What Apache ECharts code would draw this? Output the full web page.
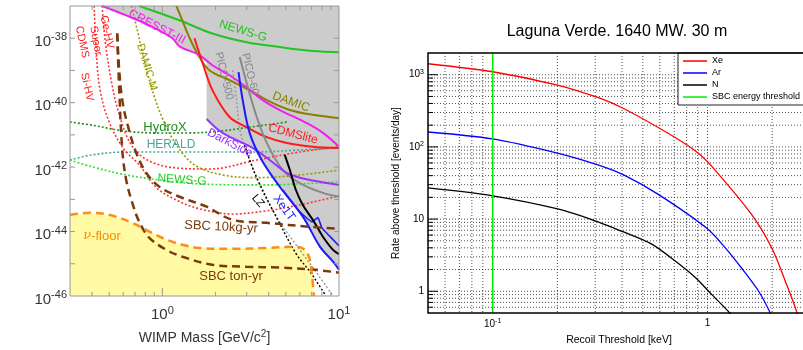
<!DOCTYPE html>
<html>
<head>
<meta charset="utf-8">
<script src="https://cdn.jsdelivr.net/npm/echarts@6/dist/echarts.min.js"></script>
<style>
html, body { margin: 0; padding: 0; background: #fff; }
#chart { width: 803px; height: 350px; }
</style>
</head>
<body>
<div id="chart"></div>
<script>
// ---------- left panel: SI WIMP-nucleon limits [mass GeV/c^2, sigma cm^2]
var massRange = [0.3, 10];
var sigmaRange = [1e-46, 1e-37];

var excludedRegion = [[0.456, 1e-37], [10, 1e-37], [10, 6.6e-46], [9.25, 1.17e-45], [7.8, 3.4e-45], [6.24, 2.9e-44],
    [4.62, 2.45e-43], [3.65, 1.66e-42], [3.25, 3.9e-42], [2.19, 1.15e-41], [1.78, 3.1e-41], [1.78, 1.7e-39],
    [1.62, 3.0e-39], [1.25, 5.6e-39], [1.14, 1e-38], [0.844, 2.5e-38], [0.624, 5.1e-38]];
var nuFloor = [[0.3, 3.3e-44], [0.385, 3.8e-44], [0.5, 3.3e-44], [0.676, 1.86e-44], [0.844, 1e-44], [1.054, 5.6e-45],
    [1.3, 3.9e-45], [1.62, 3.1e-45], [2.5, 2.9e-45], [3.9, 3.1e-45], [5.77, 3.4e-45], [6.41, 2.7e-45],
    [6.84, 1.34e-45], [7.03, 4.6e-46], [7.21, 1e-46]];

var newsG = [[0.74, 1e-37], [1.25, 3.6e-38], [1.92, 1.4e-38], [3.0, 7.5e-39], [4.62, 5.3e-39], [7.11, 4.0e-39], [10, 3.7e-39]];
var cresst3 = [[0.456, 1e-37], [0.624, 5.1e-38], [0.844, 2.5e-38], [1.14, 1e-38], [1.25, 5.6e-39], [1.62, 3.0e-39],
    [1.92, 1.45e-39], [2.4, 7.1e-40], [3.0, 3.0e-40], [3.7, 1.2e-40], [4.62, 5.9e-41], [6.58, 2.3e-41], [8.11, 1.15e-41], [10, 4.3e-42]];
var damic = [[1.2, 1e-37], [1.25, 5.9e-38], [1.42, 1.07e-38], [1.62, 2.6e-39], [1.85, 1.0e-39], [2.4, 5.0e-40],
    [3.12, 2.45e-40], [3.9, 1.2e-40], [5.27, 5.9e-41], [7.11, 4.2e-41], [10, 3.3e-41]];
var cdmsLite = [[1.52, 1e-38], [1.69, 1.7e-39], [1.92, 2.45e-40], [2.4, 3.6e-41], [3.0, 1.74e-41], [3.9, 8.5e-42],
    [5.06, 5.6e-42], [7.11, 4.3e-42], [10, 3.9e-42]];
var pico60 = [[2.74, 2.6e-39], [3.0, 4.1e-40], [3.42, 3.6e-41], [3.95, 4.9e-42], [4.81, 8.1e-43], [6.0, 3.2e-43], [8.11, 1.58e-43], [10, 1.2e-43]];
var pico500 = [[2.5, 1.0e-39], [2.63, 1.2e-40], [2.77, 1.15e-41], [3.12, 1.66e-42], [3.65, 1.95e-43], [4.62, 2.0e-44],
    [6.0, 2.7e-45], [7.6, 4.6e-46], [9.25, 1e-46]];
var lz = [[2.92, 4.9e-42], [3.12, 1.66e-42], [3.47, 4.0e-43], [4.5, 2.3e-44], [5.77, 1.9e-45], [6.84, 5.75e-46], [8.0, 1.58e-46], [8.44, 1e-46]];
var darkSide = [[1.78, 3.1e-41], [2.19, 1.15e-41], [3.25, 3.9e-42], [4.05, 1.66e-42], [5.06, 6.6e-43], [6.0, 4.7e-43], [7.8, 3.5e-43], [10, 2.8e-43]];
var xenon1t = [[2.7, 8.9e-40], [2.85, 1.2e-40], [3.12, 1.15e-41], [3.65, 1.66e-42], [4.62, 2.45e-43], [6.24, 2.9e-44],
    [7.8, 3.4e-45], [9.25, 1.17e-45], [10, 6.6e-46]];
var xenon1tInner = [[4.81, 1.95e-43], [6.0, 4.1e-44], [7.03, 2.0e-44], [7.6, 2.7e-44], [8.0, 1.3e-44], [9.25, 5.6e-45], [10, 3.6e-45]];
var blackLimit = [[4.93, 2.4e-42], [5.27, 8.1e-43], [5.7, 1.95e-43], [6.24, 6.7e-44], [7.11, 2.3e-44], [8.11, 6.9e-45], [9.25, 2.7e-45], [10, 2.0e-45]];

var hydroX = [[0.3, 2.5e-41], [0.4, 2.0e-41], [0.624, 1.3e-41], [0.962, 1.15e-41], [1.42, 1.15e-41], [2.11, 1.3e-41], [3.12, 1.74e-41], [5.06, 2.5e-41]];
var herald = [[0.3, 1.66e-42], [0.4, 2.4e-42], [0.624, 2.95e-42], [1.42, 2.95e-42], [3.42, 2.95e-42], [6.0, 3.4e-42], [10, 3.9e-42]];
var newsGProj = [[0.3, 1.66e-42], [0.4, 1.02e-42], [0.624, 5.7e-43], [0.962, 4.0e-43], [1.62, 3.0e-43], [3.9, 2.8e-43], [10, 3.5e-43]];
var damicM = [[0.667, 1e-37], [0.721, 1.8e-38], [0.79, 2.1e-39], [0.877, 2.45e-40], [1.0, 3.3e-41], [1.2, 4.9e-42],
    [1.52, 1.17e-42], [2.19, 5.7e-43], [3.42, 4.7e-43], [6.0, 5.7e-43], [10, 8.1e-43]];
var cdmsGeHV = [[0.456, 1e-37], [0.474, 8.7e-39], [0.513, 5.0e-40], [0.57, 4.2e-41], [0.667, 4.9e-42], [0.822, 1.66e-42],
    [1.17, 9.5e-43], [1.85, 8.7e-43], [3.42, 1.66e-42], [6.0, 2.95e-42], [10, 4.3e-42]];
var cdmsSiHV = [[0.411, 1e-37], [0.422, 4.3e-39], [0.444, 2.45e-40], [0.5, 2.5e-41], [0.6, 3.9e-42], [0.74, 1.17e-42],
    [0.925, 2.3e-43], [1.2, 9.5e-44], [1.62, 5.1e-44], [2.5, 3.5e-44], [3.9, 4.4e-44], [6.0, 6.7e-44], [10, 1.28e-43]];
var sbc10kg = [[0.555, 1.4e-38], [0.57, 1.0e-39], [0.593, 1.2e-40], [0.632, 2.3e-41], [0.712, 2.75e-42], [0.811, 6.6e-43],
    [0.962, 2.45e-43], [1.25, 1.2e-43], [1.78, 5.9e-44], [2.5, 2.3e-44], [3.9, 1.86e-44], [6.84, 1.4e-44], [10, 1.23e-44]];
var sbcTon = [[0.555, 1.4e-38], [0.57, 2.45e-40], [0.593, 3.4e-42], [0.624, 4.0e-43], [0.676, 7.7e-44], [0.74, 2.0e-44],
    [0.844, 6.4e-45], [1.054, 2.7e-45], [1.3, 1.65e-45], [1.92, 9.3e-46], [3.0, 8.1e-46], [4.62, 7.6e-46], [7.11, 6.6e-46], [10, 5.3e-46]];

// ---------- right panel: Laguna Verde rates [threshold keV, events/day]
var keVRange = [0.05, 3];
var rateRange = [0.5, 2000];
var xeRate = [[0.05, 1420], [0.1, 1100], [0.2, 720], [0.311, 480], [0.407, 340], [0.71, 134], [0.91, 81], [1.09, 47],
    [1.6, 11.7], [1.99, 4.0], [2.3, 1.39], [2.59, 0.54], [2.7, 0.3]];
var arRate = [[0.05, 161], [0.1, 129], [0.2, 82], [0.311, 56], [0.407, 41], [0.59, 22], [0.99, 7.5], [1.21, 4.0],
    [1.44, 2.1], [1.73, 1.0], [1.96, 0.5], [2.05, 0.35]];
var nRate = [[0.05, 27], [0.1, 21], [0.203, 13.7], [0.311, 9.1], [0.398, 6.8], [0.55, 4.5], [0.71, 2.6], [0.88, 1.54],
    [1.04, 0.92], [1.27, 0.5], [1.4, 0.35]];
var sbcThreshold = 0.1;

// tick / grid values
var steps = [1, 2, 3, 4, 5, 6, 7, 8, 9];
var massDecades = [0.1, 1];
var sigmaDecades = [1e-46, 1e-45, 1e-44, 1e-43, 1e-42, 1e-41, 1e-40, 1e-39, 1e-38, 1e-37];
var keVDecades = [0.01, 0.1, 1];
var rateDecades = [0.1, 1, 10, 100, 1000];

function inside(vals, range) {
    return vals.filter(function (v) { return v > range[0] * 1.0001 && v < range[1] * 0.9999; });
}
function withSteps(decades) {
    var out = [];
    decades.forEach(function (d) { steps.forEach(function (s) { out.push(d * s); }); });
    return out;
}

var FONT = 'Liberation Sans, Arial, sans-serif';

function isDecade(v) {
    var lg = Math.log10(v);
    return Math.abs(lg - Math.round(lg)) < 1e-4;
}

function powLabel(plain, evenOnly) {
    return function (v) {
        if (!isDecade(v)) return '';
        var e = Math.round(Math.log10(v));
        if (evenOnly && e % 2 !== 0) return '';
        if (plain && e === 0) return '{b|1}';
        if (plain && e === 1) return '{b|10}';
        return '{b|10}{s|' + e + '}';
    };
}

function curve(data, color, width, type, smooth) {
    return {
        type: 'line', xAxisIndex: 0, yAxisIndex: 0, data: data, symbol: 'none',
        smooth: smooth === undefined ? 0.35 : smooth, silent: true, z: 3,
        lineStyle: { color: color, width: width, type: type }
    };
}

function fillSeries(points, color) {
    return {
        type: 'custom', xAxisIndex: 0, yAxisIndex: 0, silent: true, z: 1, clip: true, data: points,
        renderItem: function (params, api) {
            if (params.dataIndex !== 0) return null;
            return {
                type: 'polygon',
                shape: { points: points.map(function (p) { return api.coord(p); }) },
                style: { fill: color }
            };
        }
    };
}

// short tick marks, drawn inward from the frame
function tickSeries(gi, dim, values, fixed, bigLen, smallLen, color, both) {
    return {
        type: 'custom', xAxisIndex: gi, yAxisIndex: gi, silent: true, z: 6,
        data: values.map(function (v) { return dim === 'y' ? [fixed, v] : [v, fixed]; }),
        renderItem: function (params, api) {
            var cs = params.coordSys;
            var v = api.value(dim === 'y' ? 1 : 0);
            var p = api.coord([api.value(0), api.value(1)]);
            var len = isDecade(v) ? bigLen : smallLen;
            var st = { stroke: color, lineWidth: 1 };
            var segs = [];
            if (dim === 'y') {
                segs.push({ type: 'line', shape: { x1: cs.x, y1: p[1], x2: cs.x + len, y2: p[1] }, style: st });
                if (both) segs.push({ type: 'line', shape: { x1: cs.x + cs.width, y1: p[1], x2: cs.x + cs.width - len, y2: p[1] }, style: st });
            } else {
                var yb = cs.y + cs.height;
                segs.push({ type: 'line', shape: { x1: p[0], y1: yb, x2: p[0], y2: yb - len }, style: st });
                if (both) segs.push({ type: 'line', shape: { x1: p[0], y1: cs.y, x2: p[0], y2: cs.y + len }, style: st });
            }
            return { type: 'group', children: segs };
        }
    };
}

// dotted grid lines across the right panel
function gridSeries(dim, values, fixed) {
    return {
        type: 'custom', xAxisIndex: 1, yAxisIndex: 1, silent: true, z: 1,
        data: values.map(function (v) { return dim === 'y' ? [fixed, v] : [v, fixed]; }),
        renderItem: function (params, api) {
            var cs = params.coordSys;
            var p = api.coord([api.value(0), api.value(1)]);
            var shape = dim === 'y'
                ? { x1: cs.x, y1: p[1], x2: cs.x + cs.width, y2: p[1] }
                : { x1: p[0], y1: cs.y, x2: p[0], y2: cs.y + cs.height };
            return { type: 'line', shape: shape, style: { stroke: '#222', lineWidth: 0.8, lineDash: [1, 2] } };
        }
    };
}

var bigRich = {
    b: { fontSize: 15, color: '#333', fontFamily: FONT },
    s: { fontSize: 11, color: '#333', fontFamily: FONT, padding: [0, 0, 9, 0] }
};
var smallRich = {
    b: { fontSize: 10, color: '#000', fontFamily: FONT },
    s: { fontSize: 7, color: '#000', fontFamily: FONT, padding: [0, 0, 6, 0] }
};
var nameRich = {
    a: { fontSize: 14, color: '#333', fontFamily: FONT },
    s: { fontSize: 10, color: '#333', fontFamily: FONT, padding: [0, 0, 8, 0] }
};

function label(text, x, y, color, deg, size, rich) {
    return {
        type: 'text', x: x, y: y, rotation: (deg || 0) * Math.PI / 180, silent: true, z: 20,
        style: {
            text: text, fill: color, font: (size || 12) + 'px ' + FONT,
            align: 'center', verticalAlign: 'middle', rich: rich
        }
    };
}

var chart = echarts.init(document.getElementById('chart'));
chart.setOption({
    animation: false,
    backgroundColor: '#fff',
    grid: [
        { left: 70, top: 6, width: 269, height: 290, show: true, z: 5, backgroundColor: 'transparent', borderColor: '#999', borderWidth: 1, outerBoundsMode: 'none' },
        { left: 428, top: 53, width: 382, height: 260, show: true, z: 5, backgroundColor: 'transparent', borderColor: '#000', borderWidth: 1.5, outerBoundsMode: 'none' }
    ],
    xAxis: [
        {
            gridIndex: 0, type: 'log', min: massRange[0], max: massRange[1],
            axisLine: { show: false }, axisTick: { show: false }, splitLine: { show: false },
            axisLabel: { formatter: powLabel(false, false), rich: bigRich, margin: 9, showMinLabel: false, showMaxLabel: true },
            name: '{a|WIMP Mass [GeV/c}{s|2}{a|]}', nameLocation: 'middle', nameGap: 33,
            nameTextStyle: { rich: nameRich }
        },
        {
            gridIndex: 1, type: 'log', min: keVRange[0], max: keVRange[1],
            axisLine: { show: false }, axisTick: { show: false }, splitLine: { show: false },
            axisLabel: { formatter: powLabel(true, false), rich: smallRich, margin: 5 },
            name: 'Recoil Threshold [keV]', nameLocation: 'middle', nameGap: 14,
            nameTextStyle: { fontSize: 10.5, color: '#000', fontFamily: FONT }
        }
    ],
    yAxis: [
        {
            gridIndex: 0, type: 'log', min: sigmaRange[0] * 0.999, max: sigmaRange[1],
            axisLine: { show: false }, axisTick: { show: false }, splitLine: { show: false },
            axisLabel: { formatter: powLabel(false, true), rich: bigRich, margin: 3, padding: [7, 0, 0, 0], showMinLabel: true, showMaxLabel: true, hideOverlap: false },
            name: '{a|SI WIMP-nucleon cross section [cm}{s|2}{a|]}', nameLocation: 'middle', nameGap: 37,
            nameTextStyle: { rich: nameRich }
        },
        {
            gridIndex: 1, type: 'log', min: rateRange[0], max: rateRange[1],
            axisLine: { show: false }, axisTick: { show: false }, splitLine: { show: false },
            axisLabel: { formatter: powLabel(true, false), rich: smallRich, margin: 4 },
            name: 'Rate above threshold [events/day]', nameLocation: 'middle', nameGap: 27,
            nameTextStyle: { fontSize: 10, color: '#000', fontFamily: FONT }
        }
    ],
    legend: {
        data: ['Xe', 'Ar', 'N', 'SBC energy threshold'],
        orient: 'vertical', left: 678, top: 53, selectedMode: false,
        icon: 'rect', itemWidth: 24, itemHeight: 1.5, itemGap: 2, padding: [3, 8, 3, 5],
        backgroundColor: '#fff', borderColor: '#222', borderWidth: 1, borderRadius: 0,
        textStyle: { fontSize: 9, lineHeight: 10, color: '#000', fontFamily: FONT }
    },
    graphic: [
        label('Laguna Verde. 1640 MW. 30 m', 617, 32, '#000', 0, 16),
        label('NEWS-G', 243, 31, '#22c422', -17, 12),
        label('CRESST-III', 157, 27, '#ee22ee', -27, 12),
        label('DAMIC', 291, 102, '#8a8000', -20, 12),
        label('CDMSlite', 293, 134, '#ff1a1a', -15, 12),
        label('PICO-500', 224, 76, '#888', -76, 11),
        label('PICO-60', 250, 74, '#888', -76, 11),
        label('DarkSide', 230, 143, '#9933ff', -27, 12),
        label('Xe1T', 284, 208, '#1a1aff', -54, 12),
        label('LZ', 258, 201, '#000', -50, 11),
        label('HydroX', 165, 127, '#1e8c1e', 0, 13),
        label('HERALD', 171, 145, '#46a89a', 0, 12),
        label('NEWS-G', 182, 180, '#22cc22', -4, 12),
        label('DAMIC-M', 147, 67, '#999900', -73, 11),
        label('Ge-HV', 107, 32, '#ff2222', -78, 11),
        label('Super.', 96, 42, '#ff2222', -80, 11),
        label('CDMS', 82, 42, '#ff2222', -78, 11),
        label('Si-HV', 87, 87, '#ff2222', -78, 11),
        label('SBC 10kg-yr', 221, 227, '#7b3a0c', -3, 13),
        label('SBC ton-yr', 231, 276, '#7b3a0c', 0, 13),
        label('{i|\u03bd}-floor', 102, 236, '#ff8800', 0, 13,
            { i: { fontStyle: 'italic', fontSize: 13, fill: '#ff8800', fontFamily: 'DejaVu Serif' } })
    ],
    series: [
        // left panel
        fillSeries(nuFloor.concat([[nuFloor[nuFloor.length - 1][0], sigmaRange[0]], [massRange[0], sigmaRange[0]]]), '#fffaa3'),
        fillSeries(excludedRegion, '#cccccc'),
        curve(hydroX, '#1e8c1e', 1.6, [2, 2]),
        curve(herald, '#46a89a', 1.6, [2, 2]),
        curve(newsGProj, '#33dd33', 1.6, [2, 2]),
        curve(damicM, '#999900', 1.6, [2, 2]),
        curve(cdmsGeHV, '#ff3333', 1.6, [2, 2]),
        curve(cdmsSiHV, '#ff3333', 1.6, [2, 2]),
        curve(pico500, '#999', 1.4, [2, 2]),
        curve(lz, '#000', 1.4, [2, 2]),
        curve(newsG, '#22c422', 2, 'solid'),
        curve(damic, '#8a8000', 2, 'solid'),
        curve(cresst3, '#ee22ee', 2, 'solid'),
        curve(cdmsLite, '#ff1a1a', 2, 'solid'),
        curve(pico60, '#888', 2, 'solid'),
        curve(darkSide, '#9933ff', 2, 'solid'),
        curve(xenon1t, '#1a1aff', 2, 'solid'),
        curve(xenon1tInner, '#1a1aff', 1.6, 'solid', 0.1),
        curve(blackLimit, '#000', 2, 'solid'),
        curve(sbc10kg, '#7b3a0c', 2.5, [8, 5]),
        curve(sbcTon, '#7b3a0c', 2.5, [8, 5]),
        curve(nuFloor, '#ff8c1a', 2.5, [8, 5]),
        tickSeries(0, 'y', inside(sigmaDecades, sigmaRange), massRange[0], 5, 5, '#999', true),
        tickSeries(0, 'x', inside(withSteps(massDecades), massRange), sigmaRange[0], 8, 4, '#999', true),
        // right panel
        gridSeries('x', inside(withSteps(keVDecades), keVRange), rateRange[0]),
        gridSeries('y', inside(withSteps(rateDecades), rateRange), keVRange[0]),
        tickSeries(1, 'y', inside(withSteps(rateDecades), rateRange), keVRange[0], 10, 5, '#000', false),
        {
            name: 'Xe', type: 'line', xAxisIndex: 1, yAxisIndex: 1, data: xeRate, symbol: 'none', smooth: 0.3,
            color: '#ff0000', lineStyle: { width: 1.3 }, z: 3
        },
        {
            name: 'Ar', type: 'line', xAxisIndex: 1, yAxisIndex: 1, data: arRate, symbol: 'none', smooth: 0.3,
            color: '#0000ff', lineStyle: { width: 1.3 }, z: 3
        },
        {
            name: 'N', type: 'line', xAxisIndex: 1, yAxisIndex: 1, data: nRate, symbol: 'none', smooth: 0.3,
            color: '#000000', lineStyle: { width: 1.3 }, z: 3
        },
        {
            name: 'SBC energy threshold', type: 'line', xAxisIndex: 1, yAxisIndex: 1,
            data: [[sbcThreshold, rateRange[0]], [sbcThreshold, rateRange[1]]], symbol: 'none',
            color: '#00ee00', lineStyle: { width: 1.5 }, z: 3
        }
    ]
});
</script>
</body>
</html>
